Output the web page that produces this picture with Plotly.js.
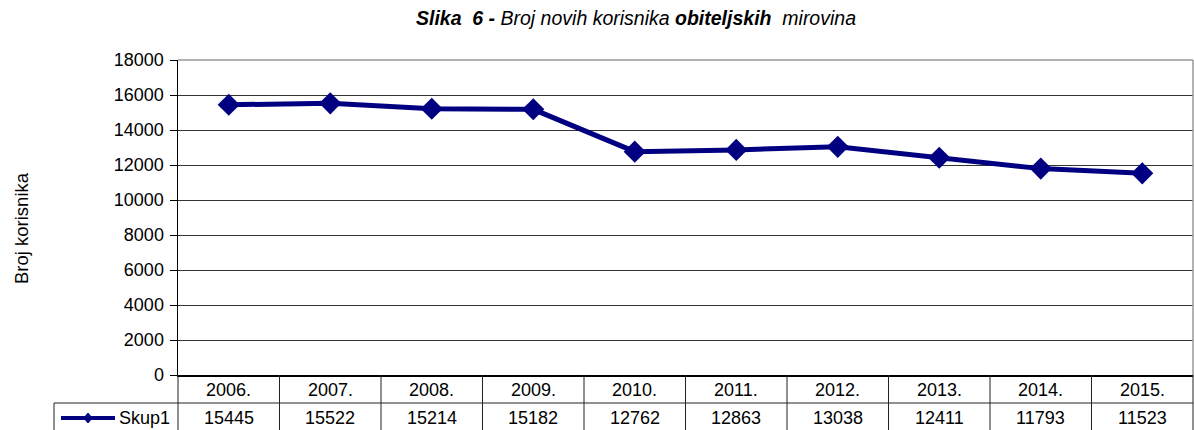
<!DOCTYPE html>
<html>
<head>
<meta charset="utf-8">
<script src="https://cdn.plot.ly/plotly-3.0.1.min.js"></script>
<style>html,body{margin:0;padding:0;background:#fff;}#chart{width:1194px;height:430px;}</style>
</head>
<body>
<div id="chart"></div>
<script>
// ---- data ----
const years = ["2006.", "2007.", "2008.", "2009.", "2010.", "2011.", "2012.", "2013.", "2014.", "2015."];
const values = [15445, 15522, 15214, 15182, 12762, 12863, 13038, 12411, 11793, 11523];
const seriesName = "Skup1";
const yTitle = "Broj korisnika";
const chartTitle = "<i><b>Slika  6 -</b> Broj novih korisnika <b>obiteljskih</b>  mirovina</i>";

// ---- geometry helpers (pixels -> paper) ----
const W = 1194, H = 430;
const mL = 178, mR = 1, mT = 60, mB = 55;
const pw = W - mL - mR, ph = H - mT - mB;
const px = x => (x - mL) / pw;          // pixel x -> paper x
const py = y => (H - mB - y) / ph;      // pixel y -> paper y

const font = "Arial, 'Liberation Sans', sans-serif";
const navy = "#000080";
const n = years.length;

const shapes = [];
const annotations = [];
const lineCol = "#222";

// table horizontal line between rows and outer left border
shapes.push({type:"line", xref:"paper", yref:"paper", x0:px(54), x1:1, y0:py(403), y1:py(403), line:{color:lineCol, width:1}});
shapes.push({type:"line", xref:"paper", yref:"paper", x0:px(54), x1:px(54), y0:py(403), y1:py(431), line:{color:lineCol, width:1}});
// column boundaries
for (let k = 0; k <= n; k++) {
  shapes.push({type:"line", xref:"paper", yref:"paper", x0:k/n, x1:k/n, y0:0, y1:py(431), line:{color:lineCol, width:1}});
}
// right border of plot (grey)
shapes.push({type:"line", xref:"paper", yref:"paper", x0:1, x1:1, y0:0, y1:1, line:{color:"#999", width:1.5}});
// top border grey
shapes.push({type:"line", xref:"paper", yref:"paper", x0:0, x1:1, y0:1, y1:1, line:{color:"#999", width:1.5}});

// legend key in table
shapes.push({type:"line", xref:"paper", yref:"paper", x0:px(61), x1:px(115), y0:py(418), y1:py(418), line:{color:navy, width:4}});
const dx = 4/pw, dy = 5/ph, cx = px(88), cy = py(418);
shapes.push({type:"path", xref:"paper", yref:"paper",
  path:`M ${cx},${cy+dy} L ${cx+dx},${cy} L ${cx},${cy-dy} L ${cx-dx},${cy} Z`,
  fillcolor:navy, line:{color:navy, width:1}});
annotations.push({xref:"paper", yref:"paper", x:px(117), y:py(418), text:seriesName, showarrow:false,
  xanchor:"left", yanchor:"middle", font:{family:font, size:18, color:"#000"}});

// table cells (column centres follow the category axis: index i -> (i+0.5)/n of the plot width)
years.forEach((yr, i) => {
  const xc = (i + 0.5) / n;
  annotations.push({xref:"paper", yref:"paper", x:xc, y:py(389.5), text:yr, showarrow:false,
    xanchor:"center", yanchor:"middle", font:{family:font, size:18, color:"#000"}});
  annotations.push({xref:"paper", yref:"paper", x:xc, y:py(418), text:String(values[i]), showarrow:false,
    xanchor:"center", yanchor:"middle", font:{family:font, size:18, color:"#000"}});
});

// y axis title
annotations.push({xref:"paper", yref:"paper", x:px(21), y:py(228), text:yTitle, textangle:-90, showarrow:false,
  xanchor:"center", yanchor:"middle", font:{family:font, size:18.5, color:"#000"}});

const trace = {
  x: years, y: values, type:"scatter", mode:"lines+markers", name: seriesName,
  line:{color:navy, width:5},
  marker:{symbol:"diamond", size:17, color:navy},
  cliponaxis:false, hoverinfo:"skip"
};

const layout = {
  width:W, height:H,
  margin:{l:mL, r:mR, t:mT, b:mB, pad:0},
  paper_bgcolor:"#fff", plot_bgcolor:"#fff",
  showlegend:false,
  title:{text:chartTitle, x:636/W, xref:"container", xanchor:"center", y:1-18/H, yref:"container", yanchor:"middle",
    font:{family:font, size:19.5, color:"#000"}},
  xaxis:{type:"category", range:[-0.5, n-0.5], showticklabels:false, ticks:"", showgrid:false, zeroline:false,
    showline:true, linecolor:"#000", linewidth:1.5, fixedrange:true},
  yaxis:{range:[0,18000], dtick:2000, tick0:0, tickformat:"d", showgrid:true, gridcolor:"#333", gridwidth:1, zeroline:false,
    showline:true, linecolor:"#000", linewidth:1.5, ticks:"outside", ticklen:7, tickcolor:"#000",
    tickfont:{family:font, size:18, color:"#000"}, ticklabelstandoff:2, fixedrange:true},
  shapes:shapes, annotations:annotations
};

Plotly.newPlot("chart", [trace], layout, {displayModeBar:false, staticPlot:true});
</script>
</body>
</html>
